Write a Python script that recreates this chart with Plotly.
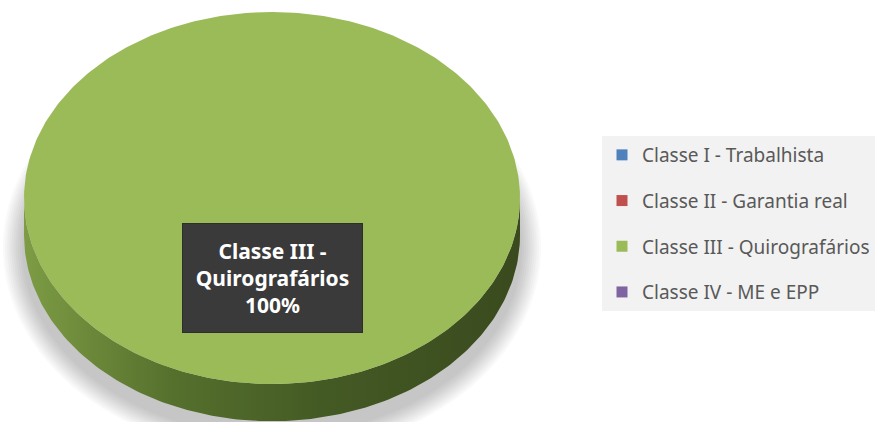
import numpy as np
import plotly.graph_objects as go

# ---------------------------------------------------------------------------
# Data
# ---------------------------------------------------------------------------
categories = [
    "Classe I - Trabalhista",
    "Classe II - Garantia real",
    "Classe III - Quirografários",
    "Classe IV - ME e EPP",
]
values = [0, 0, 100, 0]
label_lines = ["Classe III -", "Quirografários"]

# ---------------------------------------------------------------------------
# Style
# ---------------------------------------------------------------------------
_TOP_COLORS = ["#4f81bd", "#c0504d", "#9bbb59", "#8064a2"]
_SIDE_SCALES = [
    [[0, "#4a6d9a"], [0.35, "#2f4d75"], [1, "#243b5a"]],
    [[0, "#9a413e"], [0.35, "#7a2f2d"], [1, "#5e2422"]],
    [[0, "#7d9c44"], [0.3, "#55702d"], [0.6, "#445a24"], [1, "#3a4a1e"]],
    [[0, "#6a538a"], [0.35, "#4c3a66"], [1, "#3a2c4f"]],
]
_TEXT = "#595959"
_FONT = "Noto Sans, Open Sans, sans-serif"

# ellipse geometry in axis units (1 unit ~ 248 px)
RX, RY, DEPTH = 1.0, 0.75, 0.15
W, H = 884, 422

fig = go.Figure()

# soft shadow under the puck (stacked translucent ellipses)
for k in range(10):
    grow = 0.085 - k * 0.0085
    fig.add_shape(
        type="circle", xref="x", yref="y", layer="below",
        x0=-RX - grow, x1=RX + grow,
        y0=-0.2 - RY - grow, y1=-0.2 + RY + grow,
        fillcolor="rgba(0,0,0,0.022)", line=dict(width=0),
    )

total = sum(values)
start = 90.0  # 12 o'clock, clockwise like Excel
label_pos = None
for i, (cat, val) in enumerate(zip(categories, values)):
    if val <= 0:
        continue
    sweep = 360.0 * val / total
    t = np.radians(np.linspace(start, start - sweep, 361))
    # side face: visible front part (lower half of ellipse)
    front = t[np.sin(t) <= 0]
    if front.size:
        fx = RX * np.cos(front)
        fy = RY * np.sin(front)
        sx = np.concatenate([fx, fx[::-1]])
        sy = np.concatenate([fy, fy[::-1] - DEPTH])
        fig.add_trace(go.Scatter(
            x=sx, y=sy, mode="lines", fill="toself",
            line=dict(width=0, color=_TOP_COLORS[i]),
            fillgradient=dict(type="horizontal", colorscale=_SIDE_SCALES[i]),
            hoverinfo="skip", showlegend=False,
        ))
    # top face
    px_ = RX * np.cos(t)
    py_ = RY * np.sin(t)
    if sweep < 360:
        px_ = np.concatenate([[0], px_, [0]])
        py_ = np.concatenate([[0], py_, [0]])
    fig.add_trace(go.Scatter(
        x=px_, y=py_, mode="lines", fill="toself",
        fillcolor=_TOP_COLORS[i], line=dict(width=0, color=_TOP_COLORS[i]),
        name=cat, showlegend=False,
        hovertemplate=f"{cat}<br>{val / total:.0%}<extra></extra>",
    ))
    mid = np.radians(start - sweep / 2)
    label_pos = (0.43 * RX * np.cos(mid), 0.43 * RY * np.sin(mid), val / total)
    start -= sweep

# legend entries
for i, cat in enumerate(categories):
    fig.add_trace(go.Scatter(
        x=[None], y=[None], mode="markers", name=cat, legendgroup=cat,
        marker=dict(symbol="square", size=11, color=_TOP_COLORS[i]),
    ))

if label_pos:
    fig.add_annotation(
        x=label_pos[0], y=label_pos[1], xref="x", yref="y",
        text="<b>" + "<br>".join(label_lines + [f"{label_pos[2]:.0%}"]) + "</b>",
        showarrow=False, width=177, height=106,
        bgcolor="#3a3a3a", bordercolor="#2e2e2e", borderwidth=1,
        font=dict(color="white", size=21, family=_FONT),
    )

cx, cy, unit = 272, 198, 248
fig.update_layout(
    width=W, height=H,
    template=None,
    plot_bgcolor="white", paper_bgcolor="white",
    margin=dict(l=0, r=0, t=0, b=0, pad=0, autoexpand=False),
    showlegend=True,
    legend=dict(
        x=602 / W, y=1 - 136 / H, xanchor="left", yanchor="top",
        bgcolor="#f2f2f2", borderwidth=0,
        font=dict(color=_TEXT, size=19, family=_FONT),
        tracegroupgap=18, itemclick=False,
    ),
    xaxis=dict(range=[-cx / unit, (W - cx) / unit], visible=False, fixedrange=True),
    yaxis=dict(range=[-(H - cy) / unit, cy / unit], visible=False, fixedrange=True),
)

fig.write_html(
    "out.html",
    config={"displayModeBar": False},
    post_script="document.body.style.margin='0';document.body.style.overflow='hidden';",
)
